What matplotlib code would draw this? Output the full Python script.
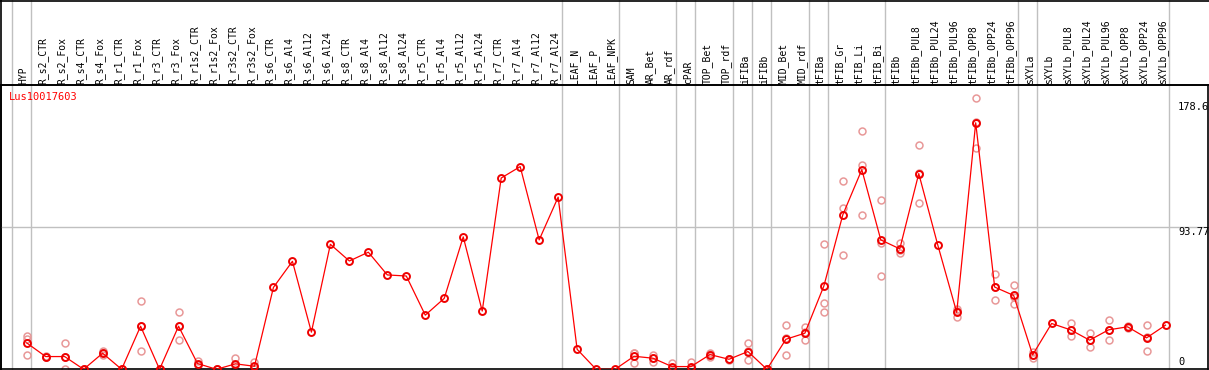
import numpy as np
import matplotlib
matplotlib.use("Agg")
import matplotlib.pyplot as plt
from matplotlib import transforms

title = "Lus10017603"

samples = ["HYP", "R_s2_CTR", "R_s2_Fox", "R_s4_CTR", "R_s4_Fox", "R_r1_CTR", "R_r1_Fox",
           "R_r3_CTR", "R_r3_Fox", "R_r1s2_CTR", "R_r1s2_Fox", "R_r3s2_CTR", "R_r3s2_Fox",
           "R_s6_CTR", "R_s6_Al4", "R_s6_Al12", "R_s6_Al24", "R_s8_CTR", "R_s8_Al4", "R_s8_Al12",
           "R_s8_Al24", "R_r5_CTR", "R_r5_Al4", "R_r5_Al12", "R_r5_Al24", "R_r7_CTR", "R_r7_Al4",
           "R_r7_Al12", "R_r7_Al24", "LEAF_N", "LEAF_P", "LEAF_NPK", "SAM", "AR_Bet", "AR_rdf",
           "cPAR", "TOP_Bet", "TOP_rdf", "iFIBa", "iFIBb", "MID_Bet", "MID_rdf", "tFIBa",
           "tFIB_Gr", "tFIB_Li", "tFIB_Bi", "tFIBb", "tFIBb_PUL8", "tFIBb_PUL24", "tFIBb_PUL96",
           "tFIBb_OPP8", "tFIBb_OPP24", "tFIBb_OPP96", "sXYLa", "sXYLb", "sXYLb_PUL8",
           "sXYLb_PUL24", "sXYLb_PUL96", "sXYLb_OPP8", "sXYLb_OPP24", "sXYLb_OPP96"]

# mean expression per sample
means = [17.4, 8.4, 8.4, 0.0, 10.6, 0.0, 28.4, 0.0, 28.4, 3.8, 0.0, 3.6, 2.0,
         54.0, 71.2, 24.5, 82.4, 71.4, 77.2, 62.2, 61.5, 35.7, 46.8, 87.3, 38.4,
         126.1, 133.6, 85.3, 113.5, 13.2, 0.0, 0.0, 8.6, 7.3, 1.8, 1.8, 9.7, 6.6,
         11.7, 0.0, 19.8, 23.8, 54.9, 101.9, 131.6, 85.3, 79.4, 129.0, 82.0, 37.5,
         162.5, 54.2, 48.7, 9.5, 30.2, 26.0, 19.2, 26.0, 28.0, 20.7, 29.1]

# replicate values (empty = no replicates shown)
reps = [[21.8, 20.3, 9.7], [8.4, 8.6, 8.2], [17.2, 8.0, 0.0], [0.0, 0.0, 0.0],
        [10.6, 11.8, 9.4], [0.0, 0.0, 0.0], [44.8, 28.5, 11.9], [0.0, 0.0, 0.0],
        [37.5, 28.7, 19.0], [5.5, 3.0, 3.0], [0.0, 0.0, 0.0], [7.7, 3.1, 0.0],
        [4.8, 1.2, 0.0],
        [], [], [], [], [], [], [], [], [], [], [], [], [], [], [], [], [], [], [],
        [11.0, 10.6, 4.2], [9.3, 7.5, 5.1], [4.4, 1.0, 0.0], [4.6, 0.8, 0.0],
        [11.0, 10.0, 8.2], [7.0, 6.6, 6.2], [17.2, 11.9, 6.0], [0.0, 0.0, 0.0],
        [28.9, 20.8, 9.7], [27.8, 24.6, 19.0], [82.5, 43.7, 37.5], [124.3, 106.5, 75.4],
        [157.2, 134.9, 101.6], [111.8, 83.1, 61.5], [83.1, 78.5, 76.5],
        [148.1, 129.3, 109.6], [], [39.7, 38.2, 34.6], [178.6, 162.9, 146.0],
        [62.8, 54.2, 45.6], [55.6, 47.5, 43.0], [11.6, 9.5, 7.4], [],
        [30.6, 25.6, 21.8], [24.0, 19.1, 14.5], [32.6, 26.2, 19.2], [28.6, 28.0, 27.4],
        [29.1, 21.0, 12.1], []]

# group boundaries (index of last sample in each group)
group_ends = [-1, 0, 28, 31, 34, 35, 37, 38, 39, 41, 42, 45, 52, 53, 60]
yticks = [0, 93.77, 178.6]
ytick_labels = ["0", "93.77", "178.6"]

W, H = 1209, 370
x0, dx = 26.7, 18.98          # pixel position of first sample, spacing
y0, ppu = 369.3, 1.517        # pixel of value 0, pixels per unit
header = 85

mono = "DejaVu Sans Mono"
fig = plt.figure(figsize=(W / 100, H / 100), dpi=100)

# background axes covering whole figure for separators
bg = fig.add_axes([0, 0, 1, 1])
bg.set_xlim(-x0 / dx, (W - x0) / dx)
bg.set_ylim(0, 1)
bg.axis("off")
for g in group_ends:
    bg.axvline(g + 0.21, color="#c0c0c0", lw=1)
bg.axhline(1 - header / H, color="black", lw=1.2)
bg.plot([-x0 / dx + 0.05, -x0 / dx + 0.05], [0, 1], color="black", lw=1.2)
bg.axhline(1 - 0.5 / H, color="black", lw=1.2)

ax = fig.add_axes([1 / W, (H - y0) / H, 1207 / W, (y0 - header) / H])
ax.set_xlim((1 - x0) / dx, (1208 - x0) / dx)
ax.set_ylim(0, (y0 - header) / ppu)
ax.patch.set_alpha(0)
for s in ax.spines.values():
    s.set_color("black")
    s.set_linewidth(1.2)
ax.set_xticks([])
ax.set_yticks([])
ax.axhline(93.77, color="#c0c0c0", lw=1, zorder=1)

x = np.arange(len(samples))
rx = np.concatenate([[i] * len(r) for i, r in enumerate(reps)])
ry = np.concatenate([r for r in reps if r])
ax.plot(rx, ry, "o", ms=5, mfc="none", mec="#e89898", mew=1.1, zorder=2, clip_on=True)
ax.plot(x, means, "-", color="red", lw=0.9, zorder=3)
ax.plot(x, means, "o", ms=5, mfc="none", mec="#ee0000", mew=1.4, zorder=4)

# y labels on the right
lx = (1178 - x0) / dx
offs = {0: 5.5, 93.77: -3.5, 178.6: -6}
for v, lab in zip(yticks, ytick_labels):
    ax.annotate(lab, (lx, v), xytext=(0, offs[v]), textcoords="offset points",
                ha="left", va="center", fontsize=7.5, family=mono, annotation_clip=False)

# header labels
tr = transforms.blended_transform_factory(bg.transData, fig.transFigure)
for i, s in enumerate(samples):
    fig.text(i - 0.16, 1 - 83.5 / H, s, rotation=90, ha="center", va="bottom",
             fontsize=7, family=mono, transform=tr)

fig.text(9 / W, 1 - 97.5 / H, title, color="red", fontsize=7.5, family=mono,
         ha="left", va="center")

fig.savefig("out.png", dpi=100)
